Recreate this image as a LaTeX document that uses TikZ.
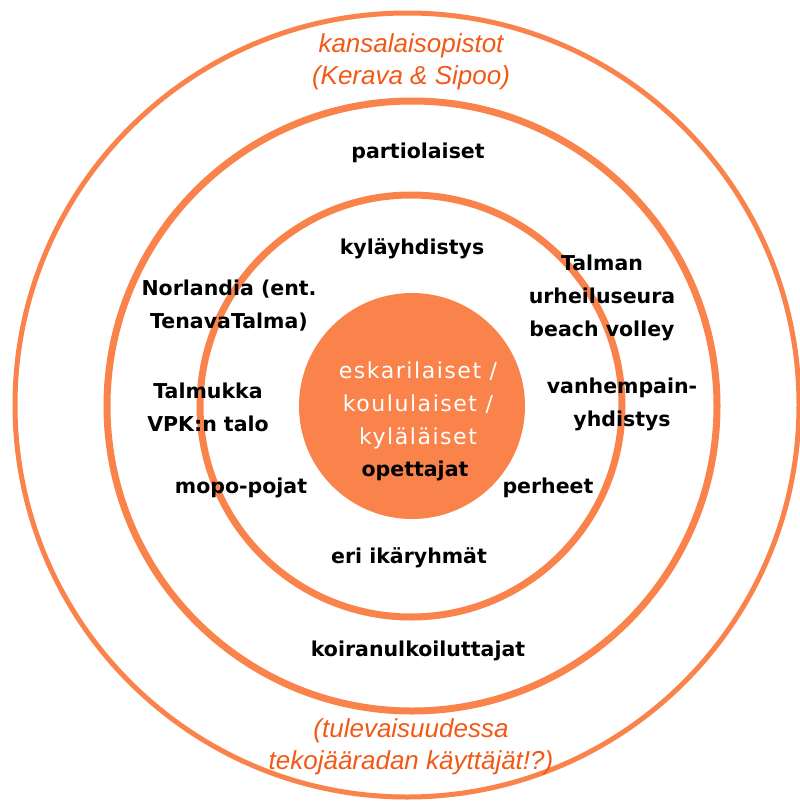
\documentclass[tikz,border=0pt]{standalone}
\usepackage{fontspec}
\setmainfont{DejaVu Sans}
\newfontfamily\futurefont{Liberation Sans}
\newfontfamily\corefont[LetterSpace=7]{DejaVu Sans}
\definecolor{ringorange}{RGB}{249,131,74}
\definecolor{futureorange}{RGB}{242,88,22}

\begin{document}
\begin{tikzpicture}[x=1pt,y=-1pt,
	ring/.style={ draw=ringorange, line width=7pt },
	group/.style={ font=\bfseries\fontsize{20.5}{33}\selectfont, align=center, inner sep=0pt },
	future/.style={ text=futureorange, font=\futurefont\itshape\fontsize{26}{32}\selectfont, align=center, inner sep=0pt },
	core/.style={ text=white, font=\corefont\fontsize{22}{33}\selectfont, align=center, inner sep=0pt }
]

\useasboundingbox (0,0) rectangle (800,801);
\draw[ring,line width=5pt] (407,405) circle (392);
\draw[ring] (412,406) circle (305);
\draw[ring] (411,406) circle (211);
\fill[ringorange] (412,406) circle (113);

\node at (411,62) (kansalais) [future] {kansalaisopistot\\(Kerava \& Sipoo)};
\node at (411,747) (tuleva) [future] {(tulevaisuudessa\\tekojääradan käyttäjät!?)};

\node at (418,153) (partio) [group] {partiolaiset};
\node at (418,651) (koira) [group] {koiranulkoiluttajat};

\node at (412,249) (kyla) [group] {kyläyhdistys};
\node at (602,298) (talman) [group] {Talman\\urheiluseura\\beach volley};
\node at (229,306) (norlandia) [group] {Norlandia (ent.\\TenavaTalma)};
\node at (208,407) (talmukka) [group] {Talmukka\\VPK:n talo};
\node at (622,404) (vanhemp) [group] {vanhempain-\\yhdistys};
\node at (241,488) (mopo) [group] {mopo-pojat};
\node at (548,488) (perheet) [group] {perheet};
\node at (409,558) (ikaryhm) [group] {eri ikäryhmät};

\node at (418,405) (oppilaat) [core] {eskarilaiset /\\koululaiset /\\kyläläiset};
\node at (415,471) (opettajat) [group] {opettajat};

\end{tikzpicture}
\end{document}
